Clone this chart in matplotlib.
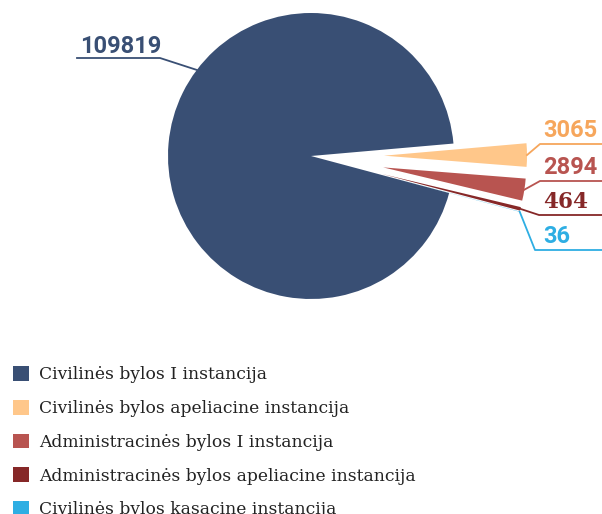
import numpy as np
import matplotlib.pyplot as plt
from matplotlib.patches import Patch

# duomenys
labels = ["Civilinės bylos I instancija",
          "Civilinės bylos apeliacine instancija",
          "Administracinės bylos I instancija",
          "Administracinės bylos apeliacine instancija",
          "Civilinės bylos kasacine instancija"]
values = [109819, 3065, 2894, 464, 36]
explode = [0, 73, 73, 73, 73]
colors = ["#394F74", "#FFC78A", "#B85450", "#862828", "#2EAEE3"]
text_colors = ["#394F74", "#F6A65C", "#B85450", "#862828", "#2EAEE3"]

W, H = 602, 514


def main():
    fig = plt.figure(figsize=(W / 100, H / 100), dpi=100)
    ax = fig.add_axes([0, 0, 1, 1])

    cx, cy, r = 311, H - 156, 143
    wedges, _ = ax.pie(values, explode=explode, colors=colors, radius=r,
                       center=(cx, cy), startangle=-15, counterclock=False,
                       wedgeprops=dict(linewidth=0))
    ax.set_xlim(0, W)
    ax.set_ylim(0, H)
    ax.set_aspect("equal")
    ax.axis("off")

    # etiketė didžiajai daliai
    a = np.deg2rad(143)
    px, py = cx + r * np.cos(a), cy + r * np.sin(a)
    ax.plot([px, 160, 77], [py, H - 58, H - 58], color=text_colors[0], lw=1.3)
    ax.text(80, H - 53, f"{values[0]}", color=text_colors[0], fontsize=17,
            fontweight="bold", family="Roboto", va="baseline")

    # mažosios dalys
    elbows = [(540, 144), (540, 181), (539, 215), (535, 250)]
    for i, (ex, ey) in enumerate(elbows, start=1):
        w = wedges[i]
        tm = np.deg2rad((w.theta1 + w.theta2) / 2)
        wx, wy = w.center
        sx, sy = wx + w.r * np.cos(tm), wy + w.r * np.sin(tm)
        ax.plot([sx, ex, W], [sy, H - ey, H - ey], color=text_colors[i], lw=1.3)
        if values[i] == 464:
            fam, fs = "DejaVu Serif", 15.5
        else:
            fam, fs = "Roboto", 17
        ax.text(543, H - ey + 7, f"{values[i]}", color=text_colors[i],
                fontsize=fs, fontweight="bold", family=fam, va="baseline")

    handles = [Patch(facecolor=c, edgecolor="none") for c in colors]
    fig.legend(handles, labels, loc="upper left",
               bbox_to_anchor=(13 / W, 1 - 366 / H), frameon=False,
               prop=dict(family="DejaVu Serif", size=12.3),
               handlelength=0.95, handleheight=0.95, handletextpad=0.6,
               labelspacing=0.97, borderpad=0, borderaxespad=0,
               labelcolor="#222222")

    fig.savefig("out.png", dpi=100)


if __name__ == '__main__':
    main()
